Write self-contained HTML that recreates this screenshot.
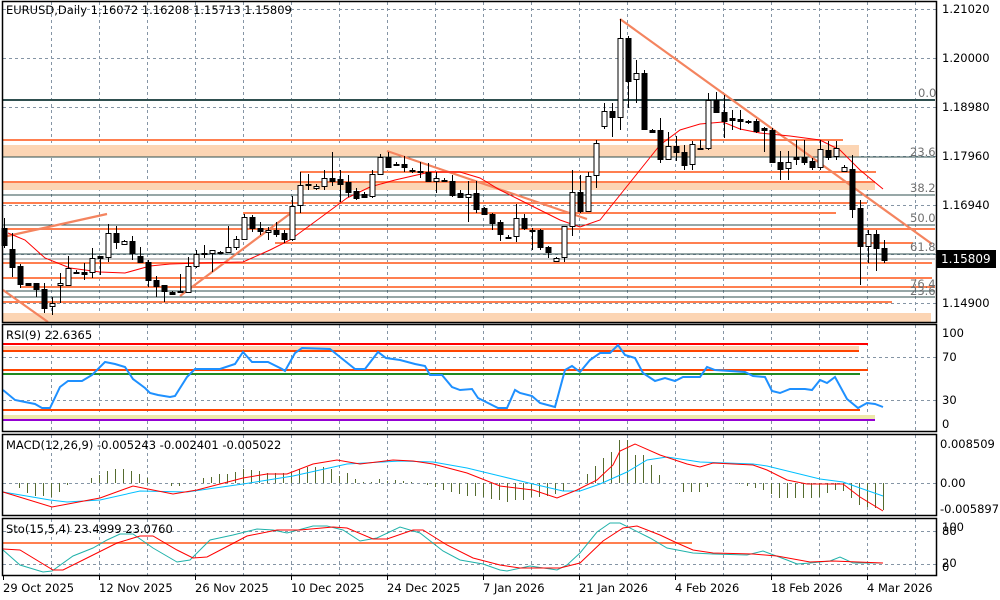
<!DOCTYPE html>
<html><head><meta charset="utf-8"><style>
html,body{margin:0;padding:0;background:#fff;width:1000px;height:600px;overflow:hidden}
svg{display:block;font-family:"DejaVu Sans","Liberation Sans",sans-serif}
text{font-size:11.5px;fill:#000}
</style></head><body>
<svg id="s" width="1000" height="600" viewBox="0 0 1000 600" xmlns="http://www.w3.org/2000/svg">
<rect width="1000" height="600" fill="#fff"/>
<g id="grid" stroke="#8595a5" stroke-width="1" stroke-dasharray="3,3"></g>
<!-- main panel bands & lines -->
<g>
<rect x="3" y="145" width="856" height="12" fill="#fcd5b4"/>
<rect x="3" y="182" width="872" height="8" fill="#fcd5b4"/>
<rect x="3" y="313" width="928" height="9" fill="#fcd5b4"/>
<g stroke="#2f4f4f" stroke-width="1">
<line x1="3" y1="157" x2="935" y2="157"/>
<line x1="3" y1="195" x2="935" y2="195"/>
<line x1="3" y1="225" x2="935" y2="225"/>
<line x1="3" y1="254" x2="935" y2="254"/>
<line x1="3" y1="291" x2="935" y2="291"/>
<line x1="3" y1="297" x2="935" y2="297"/>
</g>
<line x1="3" y1="259" x2="935" y2="259" stroke="#8c8c8c" stroke-width="1"/>
<line x1="3" y1="100" x2="935" y2="100" stroke="#2f4f4f" stroke-width="2"/>
<g stroke="#ff7f50" stroke-width="2">
<line x1="3" y1="140" x2="843" y2="140"/>
<line x1="300" y1="172" x2="876" y2="172"/>
<line x1="3" y1="182" x2="875" y2="182"/>
<line x1="3" y1="203" x2="867" y2="203"/>
<line x1="243" y1="213" x2="836" y2="213"/>
<line x1="3" y1="229" x2="935" y2="229"/>
<line x1="275" y1="243" x2="913" y2="243"/>
<line x1="3" y1="263" x2="932" y2="263"/>
<line x1="3" y1="278" x2="932" y2="278"/>
<line x1="20" y1="287" x2="935" y2="287"/>
<line x1="3" y1="302" x2="892" y2="302"/>
</g>
<g stroke="#f4845f" stroke-width="2.2">
<line x1="3" y1="237" x2="107" y2="214"/>
<line x1="3" y1="290" x2="48" y2="322"/>
<line x1="180" y1="296" x2="291" y2="213"/>
<line x1="387" y1="151" x2="587" y2="219"/>
<line x1="620" y1="19" x2="932" y2="244"/>
</g>
<polyline fill="none" stroke="#ff0000" stroke-width="1" points="8,233 25,240 45,258 70,268 100,272 125,273 150,266 170,264 200,263 243,262 270,250 290,240 320,218 347,198 370,187 395,180 430,172 460,172 480,178 500,190 520,200 540,210 560,220 580,227 600,220 620,195 640,170 660,145 680,130 700,124 723,122 740,129 760,133 790,136 820,140 840,150 860,170 883,189"/>
<g id="candles"></g>
<g fill="#808080" style="font-size:11px">
<text x="918" y="97" style="fill:#707070">0.0</text>
<text x="910" y="156" style="fill:#707070">23.6</text>
<text x="910" y="192" style="fill:#707070">38.2</text>
<text x="910" y="222" style="fill:#707070">50.0</text>
<text x="910" y="251" style="fill:#707070">61.8</text>
<text x="910" y="288" style="fill:#707070">76.4</text>
<text x="910" y="295" style="fill:#707070">23.6</text>
</g>
<text x="6" y="14">EURUSD,Daily  1.16072 1.16208 1.15713 1.15809</text>
</g>

<!-- RSI -->
<g>
<line x1="3" y1="344" x2="868" y2="344" stroke="#ff0000" stroke-width="2"/>
<rect x="3" y="346" width="856" height="5" fill="#fcd5b4"/>
<line x1="3" y1="351" x2="859" y2="351" stroke="#ff4500" stroke-width="2"/>
<line x1="3" y1="370" x2="868" y2="370" stroke="#ff4500" stroke-width="2"/>
<line x1="3" y1="374" x2="860" y2="374" stroke="#228b22" stroke-width="2"/>
<line x1="3" y1="410" x2="860" y2="410" stroke="#ff4500" stroke-width="2"/>
<rect x="3" y="415" width="872" height="4" fill="#eee8aa"/>
<line x1="3" y1="420" x2="875" y2="420" stroke="#9400d3" stroke-width="2"/>
<polyline fill="none" stroke="#1e90ff" stroke-width="2" points="3,390 15,400 25,402 35,404 42,408 50,408 60,387 68,381 82,381 92,375 105,362 115,364 125,367 133,379 145,388 150,393 158,395 170,397 175,396 187,377 195,369 220,369 235,364 243,352 252,362 268,362 282,369 285,371 295,353 302,348 330,349 340,357 355,369 365,369 378,352 386,358 400,360 415,364 425,366 430,375 442,375 452,387 460,390 472,389 478,398 490,404 498,408 507,408 515,390 520,393 532,396 540,403 555,407 565,370 572,366 580,372 590,360 600,353 610,353 618,345 625,355 635,358 643,373 655,381 665,378 675,381 683,377 700,377 707,367 715,370 745,372 753,376 765,377 772,391 780,393 790,389 805,389 812,390 820,380 827,383 835,377 847,399 858,408 867,403 875,404 883,407"/>
<text x="6" y="339">RSI(9) 22.6365</text>
</g>

<!-- MACD -->
<g>
<g id="hist" stroke="#556b2f" stroke-width="1"></g>
<polyline fill="none" stroke="#00bfff" stroke-width="1" points="3,492 50,500 67,502 100,500 140,491 187,492 243,484 293,476 347,464 400,461 433,462 467,468 500,476 533,484 563,491 580,491 600,484 627,472 647,460 667,457 700,462 753,464 767,466 820,479 843,482 860,488 883,496"/>
<polyline fill="none" stroke="#ff0000" stroke-width="1" points="3,492 52,507 100,498 133,486 173,494 197,490 243,478 267,474 287,474 313,464 337,460 360,464 393,460 413,461 433,464 467,473 500,486 533,490 557,498 577,490 597,480 613,465 620,451 635,444 660,455 687,464 700,467 713,463 753,465 767,470 787,480 807,484 843,484 860,497 883,511"/>
<text x="6" y="449">MACD(12,26,9) -0.005243 -0.002401 -0.005022</text>
</g>

<!-- Stoch -->
<g>
<line x1="3" y1="543" x2="692" y2="543" stroke="#ff7f50" stroke-width="2"/>
<polyline fill="none" stroke="#20b2aa" stroke-width="1" points="3,550 20,565 43,572 52,571 73,556 93,548 107,540 120,534 133,534 153,548 177,562 190,560 210,540 233,535 257,529 273,530 287,533 313,526 327,526 343,530 360,541 377,538 400,527 420,533 443,551 460,560 483,564 500,570 507,571 530,566 557,570 567,565 580,553 597,532 610,523 620,523 650,538 667,548 693,553 713,554 747,555 763,551 787,560 797,564 810,563 830,561 840,557 853,563 883,563"/>
<polyline fill="none" stroke="#ff0000" stroke-width="1" points="3,549 20,550 53,570 63,570 93,555 117,543 140,536 153,536 177,550 193,558 207,557 230,545 247,536 277,530 300,530 333,527 347,528 373,539 387,539 413,530 423,530 447,545 473,558 500,565 520,568 560,568 580,563 603,541 623,528 637,526 660,535 677,543 693,550 713,553 753,554 777,556 810,562 833,561 883,563"/>
<text x="6" y="533">Sto(15,5,4) 23.4999 23.0760</text>
</g>

<!-- frames -->
<g fill="none" stroke="#000" stroke-width="1.5">
<rect x="2.5" y="1.5" width="934" height="321"/>
<rect x="2.5" y="324.5" width="934" height="107"/>
<rect x="2.5" y="434.5" width="934" height="81"/>
<rect x="2.5" y="518.5" width="934" height="57"/>
</g>
<!-- price axis -->
<g>
<text x="942" y="13">1.21020</text>
<text x="942" y="62">1.20000</text>
<text x="942" y="111">1.18980</text>
<text x="942" y="160">1.17960</text>
<text x="942" y="209">1.16940</text>
<text x="942" y="307">1.14900</text>
<rect x="936" y="250" width="60" height="18" fill="#000"/>
<text x="941" y="263" style="fill:#fff;font-size:12px">1.15809</text>
<text x="942" y="337">100</text>
<text x="942" y="361">70</text>
<text x="942" y="404">30</text>
<text x="942" y="428">0</text>
<text x="940" y="448">0.008509</text>
<text x="940" y="487">0.00</text>
<text x="940" y="513">-0.005897</text>
<text x="942" y="531">100</text>
<text x="942" y="535">80</text>
<text x="942" y="567">20</text>
<text x="942" y="571">0</text>
</g>
<g id="dates"></g>
</svg>
<script>
var NS="http://www.w3.org/2000/svg";
function el(p,t,a){var e=document.createElementNS(NS,t);for(var k in a)e.setAttribute(k,a[k]);p.appendChild(e);return e;}
var grid=document.getElementById('grid');
for(var gx=51;gx<=915;gx+=48){el(grid,'line',{x1:gx+.5,y1:2,x2:gx+.5,y2:322});el(grid,'line',{x1:gx+.5,y1:325,x2:gx+.5,y2:431});el(grid,'line',{x1:gx+.5,y1:435,x2:gx+.5,y2:515});el(grid,'line',{x1:gx+.5,y1:519,x2:gx+.5,y2:575});}
[9,58,107,156,205,254,303,357,400,483,531,564].forEach(function(y){el(grid,'line',{x1:3,y1:y+.5,x2:936,y2:y+.5});});
var C=[[228,245,218,248,'b'],[249,267,233,277,'b'],[266,284,264,288,'b'],[283,285,283,286,'b'],[283,289,283,297,'b'],[289,308,283,313,'b'],[303,306,297,315,'w'],[283,285,273,303,'w'],[268,285,256,285,'w'],[272,273,270,274,'w'],[272,274,263,280,'b'],[258,272,248,278,'w'],[256,258,256,275,'b'],[233,257,224,262,'w'],[233,242,226,249,'b'],[241,244,240,244,'w'],[241,253,236,260,'b'],[256,262,247,262,'b'],[262,280,260,287,'b'],[280,286,276,297,'b'],[285,291,285,302,'b'],[292,294,291,295,'b'],[291,292,274,293,'w'],[266,292,257,292,'w'],[254,266,250,268,'w'],[253,254,245,258,'w'],[250,253,250,272,'w'],[252,253,251,254,'w'],[247,252,226,252,'w'],[239,247,236,250,'w'],[217,239,214,240,'w'],[217,228,215,232,'b'],[228,231,222,235,'b'],[230,232,227,240,'w'],[230,234,222,237,'b'],[233,239,230,243,'b'],[206,239,196,241,'w'],[185,205,172,213,'w'],[184,185,174,190,'b'],[186,188,184,190,'w'],[178,186,170,190,'w'],[178,181,152,186,'b'],[179,184,170,202,'b'],[182,192,175,197,'b'],[191,198,188,200,'b'],[194,197,192,198,'b'],[174,196,170,198,'w'],[157,174,154,175,'w'],[157,167,152,168,'b'],[164,165,162,166,'b'],[164,167,156,172,'b'],[170,171,168,173,'b'],[171,172,162,178,'b'],[172,181,163,182,'b'],[178,181,172,193,'w'],[180,181,178,182,'b'],[181,195,175,197,'b'],[193,197,190,198,'b'],[194,197,181,222,'w'],[193,209,181,213,'b'],[208,214,207,215,'b'],[214,223,213,230,'b'],[222,234,220,241,'b'],[237,238,235,239,'b'],[218,236,204,242,'w'],[218,228,214,230,'b'],[230,231,228,250,'b'],[230,247,229,250,'b'],[247,252,246,258,'b'],[258,261,257,262,'w'],[226,257,226,262,'w'],[192,226,170,236,'w'],[192,211,175,213,'b'],[176,211,172,212,'w'],[143,175,140,188,'w'],[111,126,103,129,'w'],[111,117,103,137,'b'],[38,117,19,130,'w'],[38,81,36,108,'b'],[73,79,60,103,'w'],[73,129,70,130,'b'],[130,132,129,132,'b'],[130,159,118,163,'b'],[146,159,132,160,'w'],[146,152,136,161,'b'],[152,165,145,170,'b'],[144,164,141,170,'w'],[148,149,140,150,'b'],[100,148,93,150,'w'],[100,112,92,113,'b'],[112,121,95,138,'b'],[118,120,110,130,'b'],[119,121,110,130,'b'],[121,122,120,124,'b'],[121,131,119,133,'b'],[128,130,127,152,'b'],[130,162,128,163,'b'],[162,169,151,180,'b'],[162,168,151,180,'w'],[157,159,140,165,'b'],[157,162,140,165,'b'],[161,167,158,170,'b'],[149,167,140,170,'w'],[150,157,141,160,'b'],[148,156,141,160,'w'],[167,171,165,172,'w'],[169,209,155,218,'b'],[208,246,200,285,'b'],[234,246,230,263,'w'],[234,248,230,271,'b'],[248,260,240,263,'b']];
var cg=document.getElementById('candles');
C.forEach(function(c,i){var x=Math.round(3.5+8*i)+.5;
el(cg,'line',{x1:x,y1:c[2],x2:x,y2:c[3],stroke:'#000','stroke-width':1});
var h=Math.max(1,c[1]-c[0]);
el(cg,'rect',{x:x-2.5,y:c[0]+.5,width:5,height:h,fill:c[4]=='b'?'#000':'#fff',stroke:'#000','stroke-width':1});});
var H=[[19,488],[27,493],[35,496],[43,496],[51,497],[59,492],[67,485],[91,478],[99,475],[107,471],[115,469],[123,469],[131,471],[139,474],[147,478],[171,486],[179,486],[195,484],[203,478],[211,477],[219,474],[227,474],[235,472],[243,469],[251,470],[259,471],[267,473],[275,473],[283,473],[291,472],[299,469],[307,467],[315,467],[323,467],[331,469],[339,476],[347,473],[355,479],[363,482],[371,482],[379,479],[387,481],[395,480],[403,481],[411,482],[427,485],[435,487],[443,490],[451,492],[459,494],[467,496],[475,496],[483,497],[491,499],[499,500],[507,502],[515,500],[523,500],[531,497],[539,497],[547,496],[555,494],[563,491],[587,474],[595,466],[603,458],[611,452],[619,440],[627,440],[635,455],[643,455],[651,465],[659,475],[683,492],[691,492],[699,492],[707,487],[739,484],[747,486],[755,488],[763,490],[771,494],[779,498],[787,498],[795,498],[803,498],[811,498],[819,497],[827,493],[835,490],[843,491],[851,498],[859,505],[867,507],[875,508],[883,510]];
var hg=document.getElementById('hist');
H.forEach(function(h){el(hg,'line',{x1:h[0]+.5,y1:483,x2:h[0]+.5,y2:h[1]});});
var dg=document.getElementById('dates');
[[3,'29 Oct 2025'],[99,'12 Nov 2025'],[195,'26 Nov 2025'],[291,'10 Dec 2025'],[387,'24 Dec 2025'],[483,'7 Jan 2026'],[579,'21 Jan 2026'],[675,'4 Feb 2026'],[771,'18 Feb 2026'],[867,'4 Mar 2026']].forEach(function(d){
el(dg,'line',{x1:d[0]+.5,y1:576,x2:d[0]+.5,y2:580,stroke:'#000'});
var t=el(dg,'text',{x:d[0],y:592});t.textContent=d[1];});
</script>
</body></html>
